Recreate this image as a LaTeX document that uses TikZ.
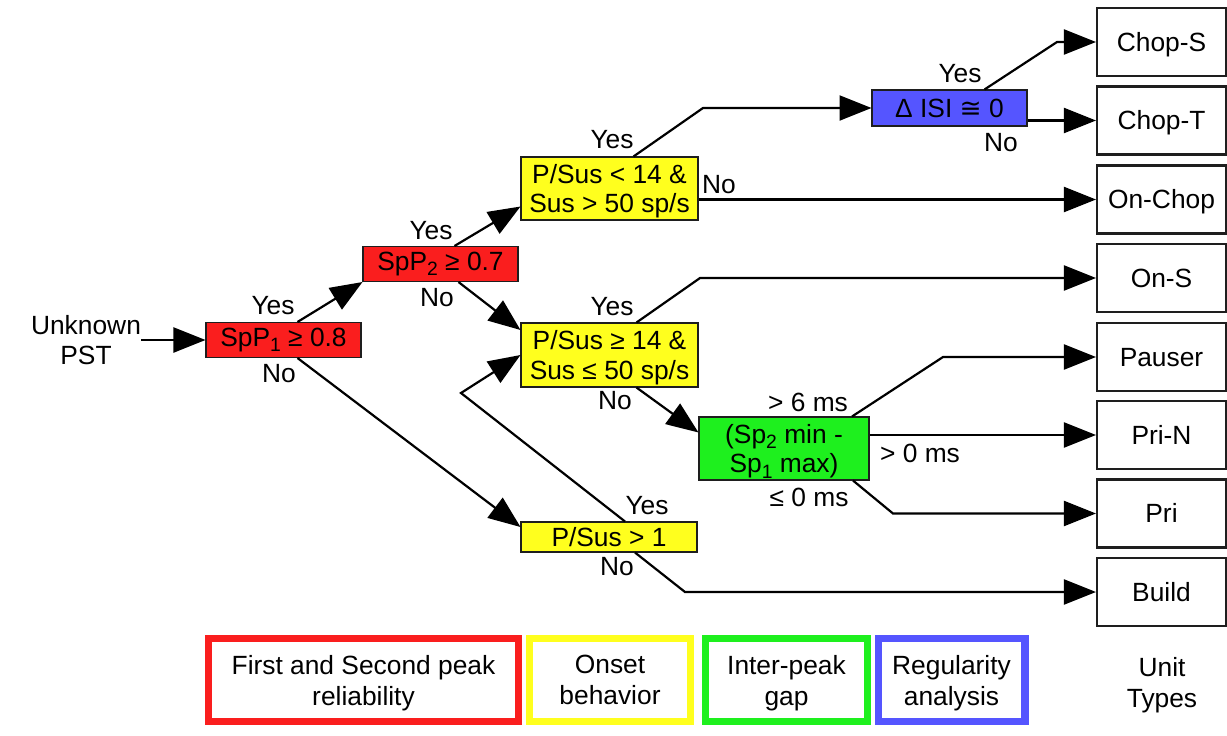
\documentclass[tikz,border=0pt]{standalone}
\usepackage{fontspec}
\setmainfont{Liberation Sans}
\newfontfamily\symFont{DejaVu Sans}
\usepackage{tikz}
\usetikzlibrary{positioning,calc,arrows.meta}
\definecolor{peakRed}{RGB}{250,30,30}
\definecolor{onsetYellow}{RGB}{255,255,30}
\definecolor{gapGreen}{RGB}{30,240,30}
\definecolor{regBlue}{RGB}{85,85,255}
\definecolor{edgeGray}{RGB}{30,30,30}
\tikzstyle{diagram} = [x = 0.02cm, y = -0.02cm, font=\fontsize{15}{17}\selectfont]
\tikzstyle{testBox} = [draw=edgeGray, line width=0.6pt, inner sep=0pt, align=center]
\tikzstyle{unitBox} = [draw=edgeGray, line width=1.2pt, minimum width=2.58cm, minimum height=1.36cm, inner sep=0pt, text height=10.7pt, text depth=0pt]
\tikzstyle{legendBox} = [line width=4pt, minimum height=1.66cm, align=center, inner sep=0pt, text depth=0pt, font=\fontsize{15}{17.6}\selectfont]
\tikzstyle{branch} = [line width=1.25pt, -{Triangle[length=0.64cm, width=0.5cm]}]
\tikzstyle{tag} = [inner sep=0pt]
\newcommand{\lowIdx}[1]{\raisebox{-0.4ex}{\fontsize{11}{11}\selectfont #1}}
\newcommand{\unitType}[3]{\node [unitBox] (#1) at (1161.5, #2) {#3};}

\begin{document}
\begin{tikzpicture}[diagram]
  \useasboundingbox (0,0) rectangle (1227,735);
  % unit types
  \unitType{chopS}{42}{Chop-S}
  \unitType{chopT}{120.5}{Chop-T}
  \unitType{onChop}{199.5}{On-Chop}
  \unitType{onS}{278}{On-S}
  \unitType{pauser}{357}{Pauser}
  \unitType{priN}{435}{Pri-N}
  \unitType{pri}{513.5}{Pri}
  \unitType{build}{592}{Build}
  % tests
  \node [tag, align=center] (unknown) at (86,340) {Unknown\\PST};
  \node [testBox, fill=peakRed, minimum width=3.1cm, minimum height=0.7cm] (spOne) at (283.5,340) {SpP\lowIdx{1} ≥ 0.8};
  \node [testBox, fill=peakRed, minimum width=3.1cm, minimum height=0.7cm] (spTwo) at (440.5,264) {SpP\lowIdx{2} ≥ 0.7};
  \node [testBox, fill=onsetYellow, minimum width=3.54cm, minimum height=1.26cm, text depth=0pt] (onsetHigh) at (609.5,188.5) {P/Sus < 14 \&\\Sus > 50 sp/s};
  \node [testBox, fill=onsetYellow, minimum width=3.54cm, minimum height=1.28cm, text depth=0pt] (onsetMid) at (609.5,355) {P/Sus ≥ 14 \&\\Sus ≤ 50 sp/s};
  \node [testBox, fill=onsetYellow, minimum width=3.52cm, minimum height=0.6cm] (onsetLow) at (609,537) {P/Sus > 1};
  \node [testBox, fill=gapGreen, minimum width=3.4cm, minimum height=1.26cm, text depth=0pt] (gapNode) at (784,448.5) {(Sp\lowIdx{2} min -\\Sp\lowIdx{1} max)};
  \node [testBox, fill=regBlue, minimum width=3.1cm, minimum height=0.72cm] (regNode) at (949.5,108) {Δ ISI {\symFont ≅} 0};
  % bends
  \coordinate (bendReg) at (703,108);
  \coordinate (bendChopS) at (1057,42);
  \coordinate (bendOnS) at (700,278);
  \coordinate (bendPauser) at (943,357);
  \coordinate (bendPri) at (893,513.5);
  \coordinate (bendBack) at (461,393);
  \coordinate (bendBuild) at (685,592);
  % connectors
  \draw [branch] (unknown.east) -- (spOne.west);
  \draw [branch] ($(spOne.north)+(14,0)$) -- (spTwo.south west);
  \draw [branch] ($(spOne.south)+(14,0)$) -- ($(onsetLow.west)+(0,-10)$);
  \draw [branch] ($(spTwo.north)+(14,0)$) -- ($(onsetHigh.west)+(0,18)$);
  \draw [branch] ($(spTwo.south)+(18,0)$) -- ($(onsetMid.west)+(0,-25)$);
  \draw [branch] ($(onsetHigh.north)+(24,0)$) -- (bendReg) -- (regNode.west);
  \draw [branch] (onsetHigh.east |- onChop.west) -- (onChop.west);
  \draw [branch] ($(regNode.north)+(35,0)$) -- (bendChopS) -- (chopS.west);
  \draw [branch] (regNode.east |- chopT.west) -- (chopT.west);
  \draw [branch] ($(onsetMid.north)+(27,0)$) -- (bendOnS) -- (onS.west);
  \draw [branch] ($(onsetMid.south)+(27,0)$) -- ($(gapNode.west)+(0,-16)$);
  \draw [branch] ($(gapNode.north)+(68,0)$) -- (bendPauser) -- (pauser.west);
  \draw [branch] (gapNode.east |- priN.west) -- (priN.west);
  \draw [branch] ($(gapNode.south)+(69,0)$) -- (bendPri) -- (pri.west);
  \draw [branch] ($(onsetLow.north)+(16,0)$) -- (bendBack) -- (onsetMid.west);
  \draw [branch] ($(onsetLow.south)+(26,0)$) -- (bendBuild) -- (build.west);
  % branch labels
  \node [tag] (spOneYes) at (273,306) {Yes};
  \node [tag] (spOneNo) at (279,374) {No};
  \node [tag] (spTwoYes) at (431,231) {Yes};
  \node [tag] (spTwoNo) at (437,298) {No};
  \node [tag] (highYes) at (612,140) {Yes};
  \node [tag] (highNo) at (719,185) {No};
  \node [tag] (regYes) at (960,74) {Yes};
  \node [tag] (regNo) at (1001,143) {No};
  \node [tag] (midYes) at (612,307) {Yes};
  \node [tag] (midNo) at (615,401) {No};
  \node [tag] (gapLong) at (808,402) {> 6 ms};
  \node [tag] (gapShort) at (920,453) {> 0 ms};
  \node [tag] (gapNone) at (809,497) {≤ 0 ms};
  \node [tag] (lowYes) at (647,506) {Yes};
  \node [tag] (lowNo) at (617,567) {No};
  % legend
  \node [legendBox, draw=peakRed, minimum width=6.2cm] (legPeak) at (363.5,680) {First and Second peak\\reliability};
  \node [legendBox, draw=onsetYellow, minimum width=3.22cm] (legOnset) at (610,680) {Onset\\behavior};
  \node [legendBox, draw=gapGreen, minimum width=3.24cm] (legGap) at (786.5,680) {Inter-peak\\gap};
  \node [legendBox, draw=regBlue, minimum width=2.94cm] (legReg) at (951.5,680) {Regularity\\analysis};
  \node [tag, align=center, text depth=0pt, font=\fontsize{15}{17.6}\selectfont] (legUnit) at (1162,682) {Unit\\Types};
\end{tikzpicture}
\end{document}
